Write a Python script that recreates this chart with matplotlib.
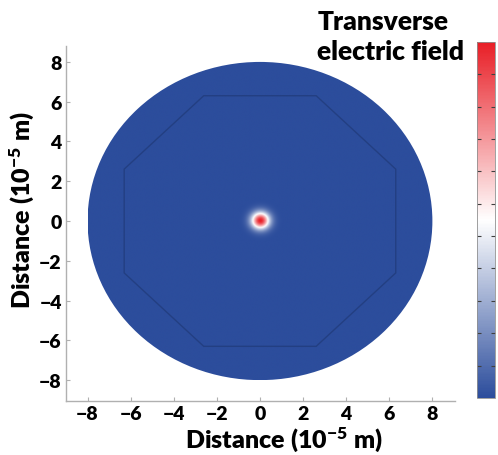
import numpy as np
import matplotlib
matplotlib.use("Agg")
import matplotlib.pyplot as plt
from matplotlib.colors import LinearSegmentedColormap
from matplotlib.patches import Circle, Polygon

plt.rcParams["font.family"] = ["Lato", "DejaVu Sans"]
plt.rcParams["font.weight"] = "bold"
plt.rcParams["mathtext.fontset"] = "custom"
plt.rcParams["mathtext.rm"] = "Lato:bold"
plt.rcParams["mathtext.bf"] = "Lato:bold"
plt.rcParams["mathtext.default"] = "regular"

# geometry (units of 1e-5 m)
cladding_radius = 8.0
octagon_apothem = 6.3
mode_center = [0.0, 0.0]
mode_width = 0.42

x_ticks = [-8, -6, -4, -2, 0, 2, 4, 6, 8]
y_ticks = [-8, -6, -4, -2, 0, 2, 4, 6, 8]
cbar_ticks = [k / 11 for k in range(1, 11)]

cmap = LinearSegmentedColormap.from_list(
    "te", ["#2c4d9c", "#ffffff", "#e81e26"])

# transverse field of the fundamental mode
g = np.linspace(-cladding_radius, cladding_radius, 1201)
X, Y = np.meshgrid(g, g)
R2 = (X - mode_center[0]) ** 2 + (Y - mode_center[1]) ** 2
field = np.exp(-R2 / mode_width ** 2)

fig = plt.figure(figsize=(4.98, 4.56), dpi=100)
ax = fig.add_axes([0.1325, 0.1184, 0.7812, 0.7785])

im = ax.imshow(field, extent=[-cladding_radius, cladding_radius,
                              -cladding_radius, cladding_radius],
               origin="lower", cmap=cmap, vmin=0, vmax=1,
               interpolation="bilinear", aspect="auto")
clip = Circle((0, 0), cladding_radius, transform=ax.transData,
              facecolor="none", edgecolor="none")
ax.add_patch(clip)
im.set_clip_path(clip)

# octagonal inner cladding boundary
circ_r = octagon_apothem / np.cos(np.pi / 8)
ang = np.pi / 8 + np.arange(8) * np.pi / 4
octagon = Polygon(np.column_stack([circ_r * np.cos(ang), circ_r * np.sin(ang)]),
                  closed=True, fill=False, edgecolor="#233f82", lw=1.0)
ax.add_patch(octagon)

ax.set_xlim(-9.0, 9.05)
ax.set_ylim(-9.05, 8.8)
ax.set_xticks(x_ticks)
ax.set_yticks(y_ticks)
ax.tick_params(direction="in", length=3, width=0.8, color="#b0b0b0",
               labelsize=14, pad=3)
for lab in ax.get_xticklabels() + ax.get_yticklabels():
    lab.set_fontweight("heavy")
for side in ["top", "right"]:
    ax.spines[side].set_visible(False)
for side in ["left", "bottom"]:
    ax.spines[side].set_color("#b0b0b0")
    ax.spines[side].set_linewidth(1.0)

ax.set_xlabel(r"Distance (10$^{-5}$ m)", fontsize=18, fontweight="heavy")
ax.set_ylabel(r"Distance (10$^{-5}$ m)", fontsize=18, fontweight="heavy")
ax.xaxis.set_label_coords(0.56, -0.065)
ax.yaxis.set_label_coords(-0.078, 0.54)

cax = fig.add_axes([0.958, 0.125, 0.036, 0.781])
cb = fig.colorbar(im, cax=cax)
cb.set_ticks(cbar_ticks)
cb.ax.tick_params(direction="in", length=3, width=0.8, color="#404040",
                  labelright=False, left=True)
cb.outline.set_edgecolor("#909090")
cb.outline.set_linewidth(0.6)

fig.text(0.637, 0.978, "Transverse\nelectric field", fontsize=19,
         fontweight="heavy", ha="left", va="top", linespacing=1.28)

fig.savefig("out.png", dpi=100)
